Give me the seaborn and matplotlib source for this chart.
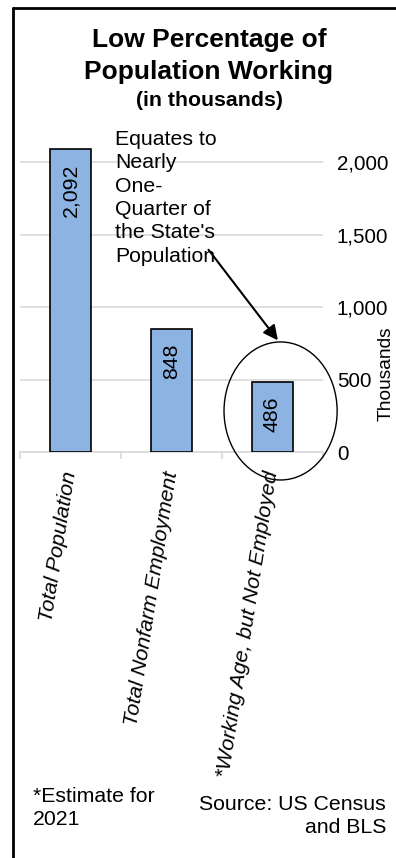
import matplotlib
matplotlib.use("Agg")
import matplotlib.pyplot as plt
import seaborn as sns
import pandas as pd
from matplotlib.patches import Ellipse
from matplotlib.lines import Line2D

categories = ["Total Population", "Total Nonfarm Employment", "*Working Age, but Not Employed"]
values = [2092, 848, 486]
value_labels = ["2,092", "848", "486"]
y_ticks = [0, 500, 1000, 1500, 2000]
y_tick_labels = ["0", "500", "1,000", "1,500", "2,000"]

sns.set_theme(style="white")
plt.rcParams["font.family"] = ["Liberation Sans", "DejaVu Sans"]
plt.rcParams["text.color"] = "black"
plt.rcParams["xtick.color"] = "black"
plt.rcParams["ytick.color"] = "black"

W, H = 396, 858
fig = plt.figure(figsize=(W / 100, H / 100), dpi=100)

def fx(px):
    return px / W

def fy(py):
    return 1 - py / H

ymax = 2150
ax_left, ax_right, ax_bottom = 20, 323, 452
ax_top = ax_bottom - ymax * 0.145
ax = fig.add_axes([fx(ax_left), fy(ax_bottom), fx(ax_right - ax_left), (ax_bottom - ax_top) / H])

df = pd.DataFrame({"category": categories, "value": values})
sns.barplot(data=df, x="category", y="value", color="#8DB3E2", saturation=1, width=0.41,
            edgecolor="black", linewidth=1.2, ax=ax, zorder=3)

ax.set_xlim(-0.5, 2.5)
ax.set_ylim(0, ymax)
ax.set_yticks(y_ticks)
ax.set_yticklabels(y_tick_labels, fontsize=14.8)
ax.yaxis.tick_right()
ax.tick_params(axis="y", length=0, pad=10)
for t in ax.get_yticklabels():
    t.set_horizontalalignment("left")
ax.grid(axis="y", color="#D9D9D9", linewidth=1.2, zorder=0)
ax.set_axisbelow(True)
for s in ["top", "left", "right"]:
    ax.spines[s].set_visible(False)
ax.spines["bottom"].set_color("#D9D9D9")
ax.spines["bottom"].set_linewidth(1.2)
ax.set_xlabel("")
ax.set_ylabel("")

# category boundary ticks
ax.set_xticks([-0.5, 0.5, 1.5, 2.5], minor=True)
ax.tick_params(axis="x", which="minor", length=5, color="#D9D9D9", width=1.2, bottom=True)
ax.tick_params(axis="x", which="major", length=0, pad=14)
ax.set_xticks(range(len(categories)))
ax.set_xticklabels(categories, rotation=81, ha="right", va="center",
                   rotation_mode="anchor", fontsize=15.3, style="italic")

# values inside the bars
for i, (v, lab) in enumerate(zip(values, value_labels)):
    ax.annotate(lab, xy=(i, v), xytext=(0, -15), textcoords="offset pixels",
                rotation=90, ha="center", va="top", fontsize=15.3, zorder=4)

# highlight ellipse and callout
ax.add_patch(Ellipse((2.08, 283), 1.12, 952, fill=False, edgecolor="black",
                     linewidth=1.0, clip_on=False, zorder=5))
ax.annotate("", xy=(2.07, 755), xytext=(1.35, 1410),
            arrowprops=dict(arrowstyle="-|>", color="black", lw=1.5,
                            mutation_scale=22), zorder=6, annotation_clip=False)
fig.text(fx(115), fy(130), "Equates to\nNearly\nOne-\nQuarter of\nthe State's\nPopulation",
         ha="left", va="top", fontsize=15.3, linespacing=1.29)

# axis title
fig.text(fx(386), fy(374), "Thousands", rotation=90, ha="center", va="center", fontsize=13.8)

# title
fig.text(fx(209), fy(40), "Low Percentage of", ha="center", va="center",
         fontsize=19, fontweight="bold")
fig.text(fx(209), fy(72), "Population Working", ha="center", va="center",
         fontsize=19, fontweight="bold")
fig.text(fx(209), fy(100), "(in thousands)", ha="center", va="center",
         fontsize=15.3, fontweight="bold")

# notes
fig.text(fx(33), fy(808), "*Estimate for\n2021", ha="left", va="center",
         fontsize=15.3, linespacing=1.32)
fig.text(fx(386), fy(816), "Source: US Census\nand BLS", ha="right", va="center",
         fontsize=15.3, linespacing=1.32, multialignment="right")

# frame
fig.add_artist(Line2D([fx(13), fx(13)], [fy(8), fy(870)], color="black", linewidth=2,
                      transform=fig.transFigure))
fig.add_artist(Line2D([fx(13), fx(400)], [fy(8), fy(8)], color="black", linewidth=2,
                      transform=fig.transFigure))

fig.savefig("out.png", dpi=100)
